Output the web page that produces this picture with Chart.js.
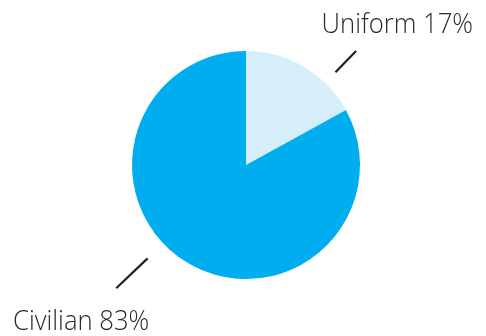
<!DOCTYPE html>
<html>
<head>
<meta charset="utf-8">
<script src="https://cdn.jsdelivr.net/npm/chart.js@4"></script>
<style>
  html, body { margin: 0; padding: 0; background: #fff; }
  #wrap { width: 486px; height: 336px; }
</style>
</head>
<body>
<div id="wrap"><canvas id="pie" width="486" height="336"></canvas></div>
<script>
const labels = ['Uniform', 'Civilian'];
const shares = [17, 83];
const colors = ['#D6EDFA', '#00AEEF'];

// leader line / label placement, per slice: direction (deg), line start/end as radius multiples, text anchor
const callouts = [
  { angle: -46, r0: 1.13, r1: 1.39, tx: 473, ty: 33, align: 'right' },
  { angle: 136.5, r0: 1.19, r1: 1.57, tx: 13, ty: 330, align: 'left' },
];

const calloutPlugin = {
  id: 'callouts',
  afterDatasetsDraw(chart) {
    const { ctx } = chart;
    const arcs = chart.getDatasetMeta(0).data;
    ctx.save();
    arcs.forEach((arc, i) => {
      const c = callouts[i];
      const a = c.angle * Math.PI / 180;
      const r = arc.outerRadius;
      ctx.strokeStyle = '#231F20';
      ctx.lineWidth = 2.2;
      ctx.beginPath();
      ctx.moveTo(arc.x + Math.cos(a) * r * c.r0, arc.y + Math.sin(a) * r * c.r0);
      ctx.lineTo(arc.x + Math.cos(a) * r * c.r1, arc.y + Math.sin(a) * r * c.r1);
      ctx.stroke();

      // slightly condensed, light text like the original
      ctx.save();
      ctx.fillStyle = '#2A2A2A';
      ctx.font = '350 27px "Open Sans"';
      ctx.textAlign = c.align;
      ctx.textBaseline = 'alphabetic';
      ctx.translate(c.tx, c.ty);
      ctx.scale(0.95, 1);
      ctx.fillText(`${labels[i]} ${shares[i]}%`, 0, 0);
      ctx.restore();
    });
    ctx.restore();
  },
};

new Chart(document.getElementById('pie'), {
  type: 'pie',
  data: {
    labels: labels,
    datasets: [{ data: shares, backgroundColor: colors, borderWidth: 0 }],
  },
  options: {
    responsive: false,
    animation: false,
    layout: { padding: { top: 51, bottom: 57, left: 132, right: 126 } },
    plugins: { legend: { display: false }, tooltip: { enabled: false } },
  },
  plugins: [calloutPlugin],
});
</script>
</body>
</html>
